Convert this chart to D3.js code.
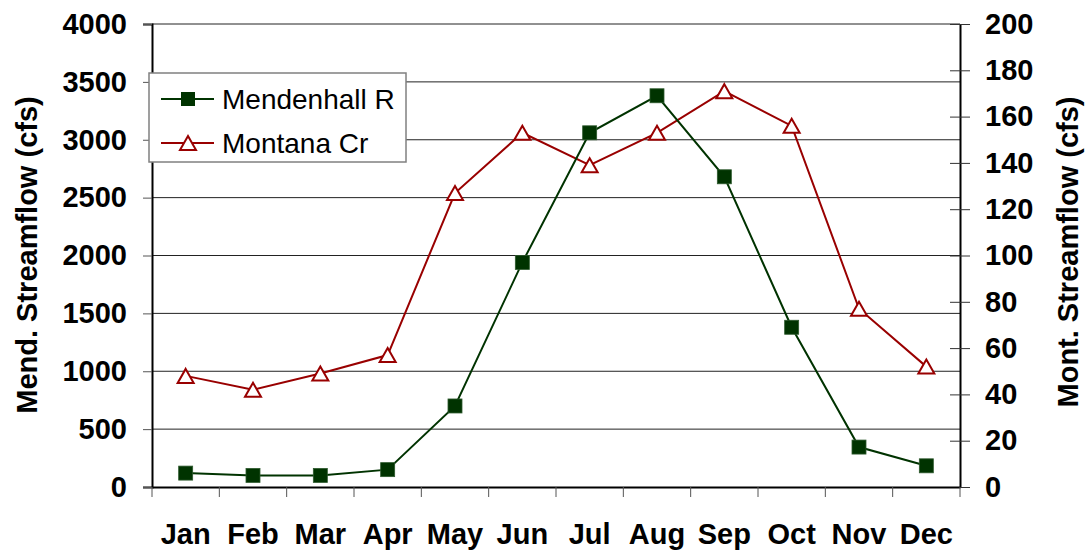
<!DOCTYPE html>
<html>
<head>
<meta charset="utf-8">
<script src="https://cdn.jsdelivr.net/npm/d3@7"></script>
<style>
  body { margin: 0; background: #fff; }
  text { font-family: "Liberation Sans", Arial, sans-serif; }
</style>
</head>
<body>
<script>
// monthly mean streamflow
var months = ["Jan", "Feb", "Mar", "Apr", "May", "Jun", "Jul", "Aug", "Sep", "Oct", "Nov", "Dec"];
var mendenhall = [120, 100, 100, 150, 700, 1940, 3060, 3380, 2680, 1380, 345, 183];
var montana = [48, 42, 49, 57, 127, 153, 139, 153, 171, 156, 77, 52];
var leftTicks = [0, 500, 1000, 1500, 2000, 2500, 3000, 3500, 4000];
var rightTicks = [0, 20, 40, 60, 80, 100, 120, 140, 160, 180, 200];

var W = 1085, H = 550;
var margin = {top: 24, right: 125, bottom: 63, left: 152},
    width = W - margin.left - margin.right,
    height = H - margin.top - margin.bottom;

var greenC = "#003300", redC = "#990000";

var svg = d3.select("body").append("svg")
    .attr("width", W)
    .attr("height", H);

var g = svg.append("g")
    .attr("transform", "translate(" + margin.left + "," + margin.top + ")");

var x = d3.scaleBand().domain(months).range([0, width]);
var yL = d3.scaleLinear().domain([0, 4000]).range([height, 0]);
var yR = d3.scaleLinear().domain([0, 200]).range([height, 0]);

// gridlines
g.append("g")
  .selectAll("line")
  .data(leftTicks.filter(function(d) { return d > 0; }))
  .enter().append("line")
    .attr("x1", 0).attr("x2", width)
    .attr("y1", function(d) { return yL(d); })
    .attr("y2", function(d) { return yL(d); })
    .attr("stroke", "#222")
    .attr("stroke-width", 1);

// left axis
var axL = g.append("g")
    .call(d3.axisLeft(yL).tickValues(leftTicks).tickFormat(d3.format("d")).tickSize(9).tickPadding(16));
axL.select(".domain").attr("stroke", "#000").attr("stroke-width", 2);
axL.selectAll(".tick line").attr("stroke", "#555");
axL.selectAll("text")
    .attr("font-size", "29px").attr("font-weight", "bold").attr("fill", "#000");

// right axis, ticks cross
var axR = g.append("g")
    .attr("transform", "translate(" + width + ",0)")
    .call(d3.axisRight(yR).tickValues(rightTicks).tickFormat(d3.format("d")).tickSizeInner(10).tickSizeOuter(0).tickPadding(15));
axR.select(".domain").attr("stroke", "#000").attr("stroke-width", 2);
axR.selectAll(".tick line").attr("x1", -10).attr("stroke", "#333");
axR.selectAll("text")
    .attr("font-size", "29px").attr("font-weight", "bold").attr("fill", "#000");

// bottom axis with ticks between categories
var axB = g.append("g")
    .attr("transform", "translate(0," + height + ")")
    .call(d3.axisBottom(x).tickSize(0).tickPadding(36));
axB.select(".domain").attr("stroke", "#000").attr("stroke-width", 2);
axB.selectAll("text")
    .attr("font-size", "29px").attr("font-weight", "bold").attr("fill", "#000");
axB.selectAll(".sep")
  .data(d3.range(months.length + 1))
  .enter().append("line")
    .attr("class", "sep")
    .attr("x1", function(i) { return i * x.step(); })
    .attr("x2", function(i) { return i * x.step(); })
    .attr("y1", 0).attr("y2", 10)
    .attr("stroke", "#555");

// axis titles
svg.append("text")
    .attr("transform", "translate(37,255) rotate(-90)")
    .attr("text-anchor", "middle")
    .attr("font-size", "29px").attr("font-weight", "bold")
    .text("Mend. Streamflow (cfs)");
svg.append("text")
    .attr("transform", "translate(1078,252) rotate(-90)")
    .attr("text-anchor", "middle")
    .attr("font-size", "29px").attr("font-weight", "bold")
    .text("Mont. Streamflow (cfs)");

var cx = function(d, i) { return x(months[i]) + x.bandwidth() / 2; };
var triPath = "M0,-7L8,7L-8,7Z";

// Montana Cr line
g.append("path")
    .datum(montana)
    .attr("fill", "none")
    .attr("stroke", redC)
    .attr("stroke-width", 2)
    .attr("d", d3.line().x(cx).y(function(d) { return yR(d); }));

// Mendenhall line
g.append("path")
    .datum(mendenhall)
    .attr("fill", "none")
    .attr("stroke", greenC)
    .attr("stroke-width", 2)
    .attr("d", d3.line().x(cx).y(function(d) { return yL(d); }));

g.selectAll(".tri")
  .data(montana)
  .enter().append("path")
    .attr("class", "tri")
    .attr("d", triPath)
    .attr("transform", function(d, i) { return "translate(" + cx(d, i) + "," + yR(d) + ")"; })
    .attr("fill", "#fff")
    .attr("stroke", redC)
    .attr("stroke-width", 2);

g.selectAll(".sq")
  .data(mendenhall)
  .enter().append("rect")
    .attr("class", "sq")
    .attr("x", function(d, i) { return cx(d, i) - 7; })
    .attr("y", function(d) { return yL(d) - 7; })
    .attr("width", 14).attr("height", 14)
    .attr("fill", greenC)
    .attr("stroke", "#2e5a2e")
    .attr("stroke-width", 0.8);

// legend
var legend = svg.append("g").attr("transform", "translate(149,73)");
legend.append("rect")
    .attr("width", 257).attr("height", 89)
    .attr("fill", "#fff")
    .attr("stroke", "#808080")
    .attr("stroke-width", 1.5);

var items = [
  {name: "Mendenhall R", color: greenC, y: 26, type: "sq"},
  {name: "Montana Cr", color: redC, y: 70, type: "tri"}
];
var li = legend.selectAll(".li")
  .data(items)
  .enter().append("g")
    .attr("transform", function(d) { return "translate(0," + d.y + ")"; });
li.append("line")
    .attr("x1", 12).attr("x2", 65)
    .attr("stroke", function(d) { return d.color; })
    .attr("stroke-width", 2);
li.each(function(d) {
  var s = d3.select(this);
  if (d.type == "sq") {
    s.append("rect").attr("x", 32).attr("y", -7).attr("width", 14).attr("height", 14)
      .attr("fill", greenC);
  } else {
    s.append("path").attr("d", triPath).attr("transform", "translate(39,0)")
      .attr("fill", "#fff").attr("stroke", redC).attr("stroke-width", 2);
  }
});
li.append("text")
    .attr("x", 73)
    .attr("dy", "0.35em")
    .attr("font-size", "28px")
    .text(function(d) { return d.name; });
</script>
</body>
</html>
